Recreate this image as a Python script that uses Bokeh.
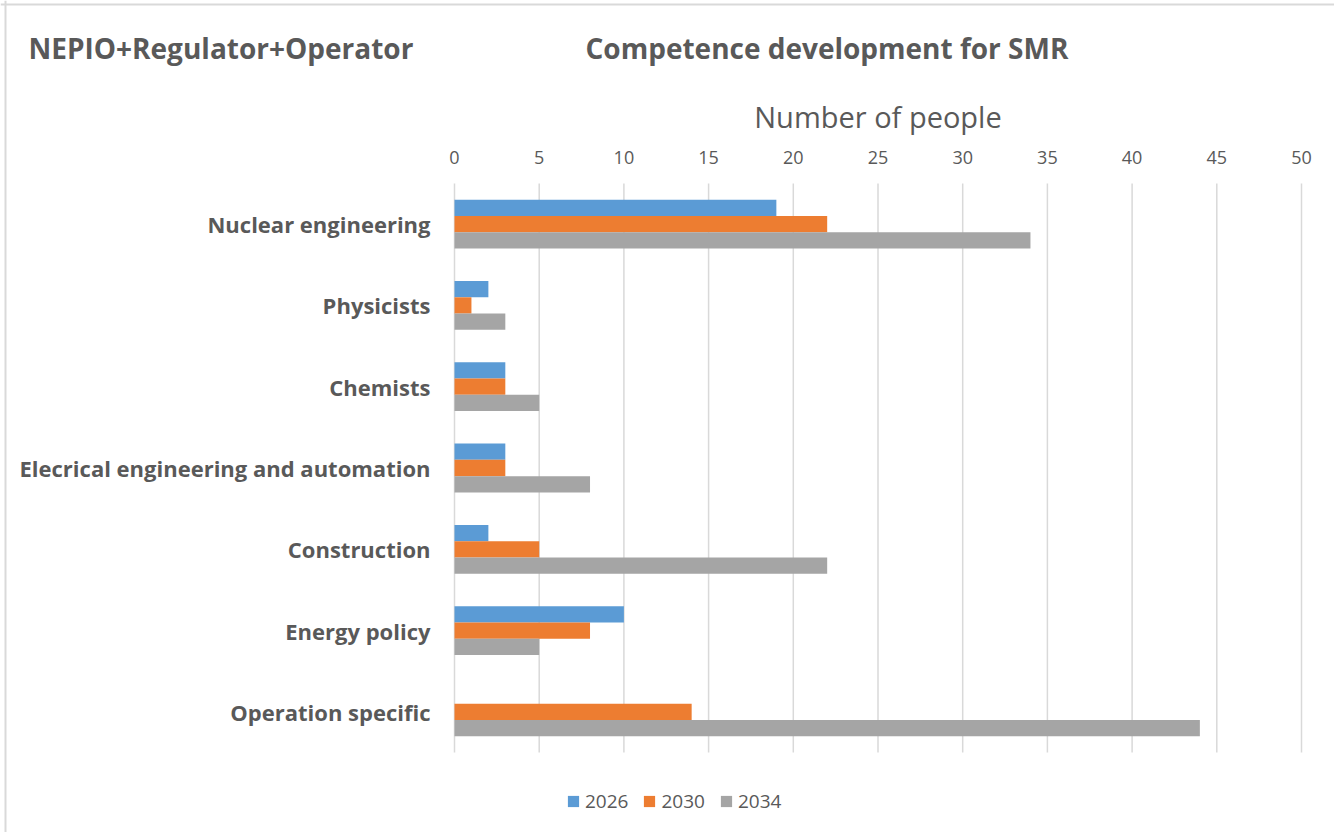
from bokeh.plotting import figure
from bokeh.models import (Range1d, Legend, LegendItem, Label, Span,
                          ColumnDataSource, FixedTicker, LinearAxis)
from bokeh.transform import dodge
from bokeh.embed import file_html
from bokeh.resources import INLINE

categories = ["Nuclear engineering", "Physicists", "Chemists",
              "Elecrical engineering and automation", "Construction",
              "Energy policy", "Operation specific"]
years = ["2026", "2030", "2034"]
v2026 = [19, 2, 3, 3, 2, 10, 0]
v2030 = [22, 1, 3, 3, 5, 8, 14]
v2034 = [34, 3, 5, 8, 22, 5, 44]
x_ticks = [0, 5, 10, 15, 20, 25, 30, 35, 40, 45, 50]

colors = ["#5B9BD5", "#ED7D31", "#A5A5A5"]
FONT = "Open Sans"
TXT = "#595959"

# ---- layout geometry (pixels on the page) ----
W, H = 1334, 832
PL, PR, PT, PB = 454, 1301, 183, 752          # plot area edges
XMAX = x_ticks[-1]
N = len(categories)
kx = (PR - PL) / XMAX
ky = (PB - PT) / N


def X(px):
    return (px - PL) / kx


def Y(py):
    return (N - 0.5) - (py - PT) / ky


p = figure(width=W, height=H,
           x_range=Range1d(X(0), X(W)), y_range=Range1d(Y(H), Y(0)),
           x_axis_type=None, y_axis_type=None,
           output_backend="svg", toolbar_location=None)
p.min_border = 0
p.min_border_left = 0
p.min_border_right = 0
p.min_border_top = 0
p.min_border_bottom = 0
p.outline_line_color = None
p.background_fill_color = "white"
p.border_fill_color = "white"

ypos = list(range(N - 1, -1, -1))   # first category at the top
src = ColumnDataSource(dict(y=ypos, cat=categories, v2026=v2026, v2030=v2030, v2034=v2034))

# vertical grid lines over the plot area
p.segment(x0=x_ticks, x1=x_ticks, y0=-0.5, y1=N - 0.5,
          line_color="#D9D9D9", line_width=1.5)

renderers = []
for col, off, c in zip(["v2026", "v2030", "v2034"], [0.2, 0.0, -0.2], colors):
    r = p.hbar(y=dodge("y", off), right=col, left=0,
               height=0.2, source=src, fill_color=c, line_color=None)
    renderers.append(r)

# top value axis
xa = LinearAxis(fixed_location=N - 0.5, bounds=(0, XMAX),
                ticker=FixedTicker(ticks=x_ticks))
xa.axis_line_color = None
xa.major_tick_line_color = None
xa.minor_tick_line_color = None
xa.major_tick_out = 0
xa.major_tick_in = 0
xa.major_label_standoff = 20
xa.major_label_text_font = FONT
xa.major_label_text_font_size = "18px"
xa.major_label_text_color = TXT
xa.axis_label = "Number of people"
xa.axis_label_text_font = FONT
xa.axis_label_text_font_style = "normal"
xa.axis_label_text_font_size = "29px"
xa.axis_label_text_color = TXT
xa.axis_label_standoff = 12
p.add_layout(xa, "above")

# category axis
ya = LinearAxis(fixed_location=0, bounds=(-0.5, N - 0.5),
                ticker=FixedTicker(ticks=ypos),
                major_label_overrides={y: c for y, c in zip(ypos, categories)})
ya.axis_line_color = None
ya.major_tick_line_color = None
ya.minor_tick_line_color = None
ya.major_tick_out = 0
ya.major_tick_in = 0
ya.major_label_standoff = 24
ya.major_label_text_font = FONT
ya.major_label_text_font_size = "22px"
ya.major_label_text_font_style = "bold"
ya.major_label_text_color = TXT
p.add_layout(ya, "left")

# titles
for tx, txt in [(28, "NEPIO+Regulator+Operator"), (585, "Competence development for SMR")]:
    p.add_layout(Label(x=X(tx), y=Y(47), text=txt, text_font=FONT,
                       text_font_size="28px", text_font_style="bold",
                       text_color=TXT, text_baseline="middle"))

# chart border (left and top edges)
p.add_layout(Span(location=X(5), dimension="height", line_color="#D9D9D9", line_width=2))
p.add_layout(Span(location=Y(4), dimension="width", line_color="#D9D9D9", line_width=2))

legend = Legend(items=[LegendItem(label=y, renderers=[r]) for y, r in zip(years, renderers)],
                orientation="horizontal", location=(566, H - 814),
                glyph_width=14, glyph_height=14,
                label_text_font=FONT, label_text_font_size="19px",
                label_text_color=TXT, spacing=14,
                background_fill_alpha=0, border_line_color=None,
                padding=0, margin=0, label_standoff=5)
p.add_layout(legend, "center")

open("out.html", "w").write(file_html(p, INLINE))
